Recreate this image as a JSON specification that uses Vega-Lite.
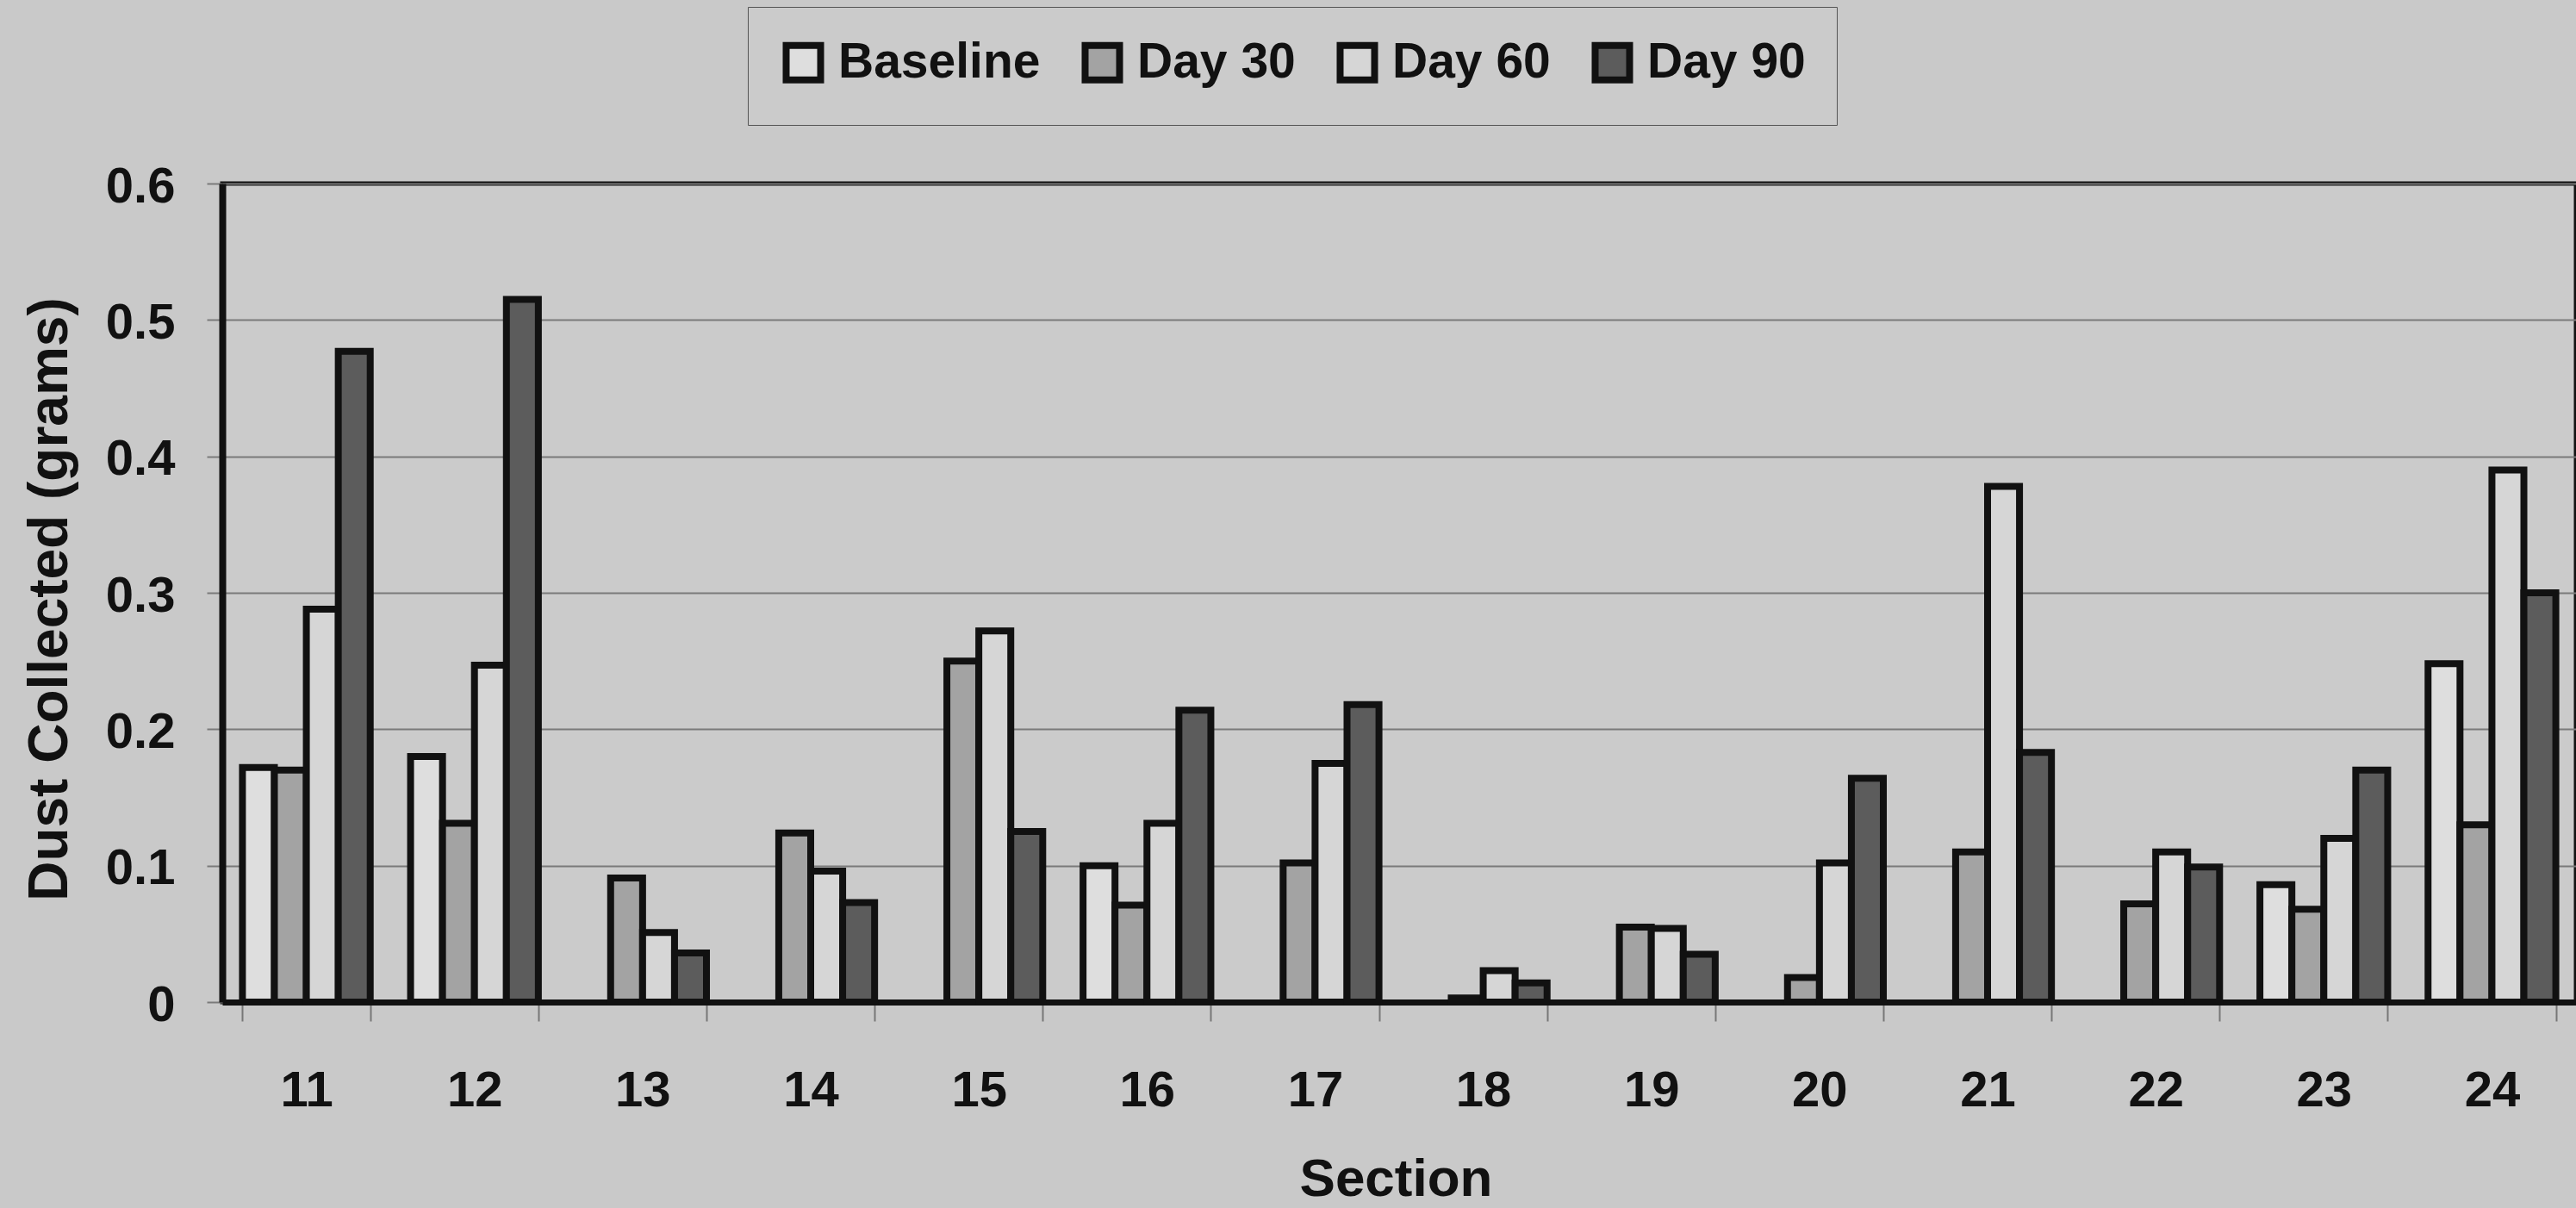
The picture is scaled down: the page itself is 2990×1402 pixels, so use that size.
{
  "$schema": "https://vega.github.io/schema/vega-lite/v6.json",
  "width": 2732,
  "height": 950,
  "autosize": {"type": "none"},
  "padding": {"left": 258, "top": 213, "right": 0, "bottom": 239},
  "background": "#c9c9c9",
  "config": {
    "font": "Liberation Sans",
    "view": {"stroke": "#111111", "strokeWidth": 5, "fill": "#cbcbcb"}
  },
  "data": {
    "values": [
      {"section": 11, "period": "Baseline", "grams": 0.172},
      {"section": 11, "period": "Day 30", "grams": 0.170},
      {"section": 11, "period": "Day 60", "grams": 0.288},
      {"section": 11, "period": "Day 90", "grams": 0.477},
      {"section": 12, "period": "Baseline", "grams": 0.180},
      {"section": 12, "period": "Day 30", "grams": 0.131},
      {"section": 12, "period": "Day 60", "grams": 0.247},
      {"section": 12, "period": "Day 90", "grams": 0.515},
      {"section": 13, "period": "Day 30", "grams": 0.091},
      {"section": 13, "period": "Day 60", "grams": 0.051},
      {"section": 13, "period": "Day 90", "grams": 0.036},
      {"section": 14, "period": "Day 30", "grams": 0.124},
      {"section": 14, "period": "Day 60", "grams": 0.096},
      {"section": 14, "period": "Day 90", "grams": 0.073},
      {"section": 15, "period": "Day 30", "grams": 0.250},
      {"section": 15, "period": "Day 60", "grams": 0.272},
      {"section": 15, "period": "Day 90", "grams": 0.125},
      {"section": 16, "period": "Baseline", "grams": 0.100},
      {"section": 16, "period": "Day 30", "grams": 0.071},
      {"section": 16, "period": "Day 60", "grams": 0.131},
      {"section": 16, "period": "Day 90", "grams": 0.214},
      {"section": 17, "period": "Day 30", "grams": 0.102},
      {"section": 17, "period": "Day 60", "grams": 0.175},
      {"section": 17, "period": "Day 90", "grams": 0.218},
      {"section": 18, "period": "Day 30", "grams": 0.003},
      {"section": 18, "period": "Day 60", "grams": 0.023},
      {"section": 18, "period": "Day 90", "grams": 0.014},
      {"section": 19, "period": "Day 30", "grams": 0.055},
      {"section": 19, "period": "Day 60", "grams": 0.054},
      {"section": 19, "period": "Day 90", "grams": 0.035},
      {"section": 20, "period": "Day 30", "grams": 0.018},
      {"section": 20, "period": "Day 60", "grams": 0.102},
      {"section": 20, "period": "Day 90", "grams": 0.164},
      {"section": 21, "period": "Day 30", "grams": 0.110},
      {"section": 21, "period": "Day 60", "grams": 0.378},
      {"section": 21, "period": "Day 90", "grams": 0.183},
      {"section": 22, "period": "Day 30", "grams": 0.072},
      {"section": 22, "period": "Day 60", "grams": 0.110},
      {"section": 22, "period": "Day 90", "grams": 0.099},
      {"section": 23, "period": "Baseline", "grams": 0.086},
      {"section": 23, "period": "Day 30", "grams": 0.068},
      {"section": 23, "period": "Day 60", "grams": 0.120},
      {"section": 23, "period": "Day 90", "grams": 0.170},
      {"section": 24, "period": "Baseline", "grams": 0.248},
      {"section": 24, "period": "Day 30", "grams": 0.130},
      {"section": 24, "period": "Day 60", "grams": 0.390},
      {"section": 24, "period": "Day 90", "grams": 0.300}
    ]
  },
  "mark": {"type": "bar", "stroke": "#111111", "strokeWidth": 8, "strokeJoin": "miter"},
  "encoding": {
    "x": {
      "field": "section",
      "type": "ordinal",
      "scale": {"paddingInner": 0.24, "paddingOuter": 0.12},
      "axis": {
        "title": "Section",
        "titleFontSize": 62,
        "titleFontWeight": "bold",
        "titleColor": "#111111",
        "titleX": 1362,
        "titleY": 224,
        "titleBaseline": "alphabetic",
        "titleAlign": "center",
        "labelAngle": 0,
        "labelFontSize": 58,
        "labelFontWeight": "bold",
        "labelColor": "#111111",
        "labelBaseline": "alphabetic",
        "labelPadding": 98,
        "tickSize": 22,
        "tickColor": "#777777",
        "tickWidth": 2,
        "tickBand": "extent",
        "domainColor": "#111111",
        "domainWidth": 7,
        "grid": false
      }
    },
    "xOffset": {
      "field": "period",
      "type": "nominal",
      "scale": {"domain": ["Baseline", "Day 30", "Day 60", "Day 90"], "paddingInner": 0, "paddingOuter": 0}
    },
    "y": {
      "field": "grams",
      "type": "quantitative",
      "scale": {"domain": [0, 0.6], "nice": false},
      "axis": {
        "title": "Dust Collected (grams)",
        "titleFontSize": 64,
        "titleFontWeight": "bold",
        "titleColor": "#111111",
        "titleAngle": 270,
        "titleX": -200,
        "titleY": 482,
        "titleBaseline": "middle",
        "titleAlign": "center",
        "values": [0, 0.1, 0.2, 0.3, 0.4, 0.5, 0.6],
        "labelExpr": "datum.value == 0 ? '0' : format(datum.value, '.1f')",
        "labelFontSize": 58,
        "labelFontWeight": "bold",
        "labelColor": "#111111",
        "labelBaseline": "alphabetic",
        "labelOffset": 21,
        "labelPadding": 37,
        "labelFlush": false,
        "labelOverlap": false,
        "tickSize": 18,
        "tickColor": "#7a7a7a",
        "tickWidth": 2,
        "grid": true,
        "gridColor": "#7a7a7a",
        "gridWidth": 2,
        "domainColor": "#111111",
        "domainWidth": 8
      }
    },
    "fill": {
      "field": "period",
      "type": "nominal",
      "scale": {
        "domain": ["Baseline", "Day 30", "Day 60", "Day 90"],
        "range": ["#dedede", "#a3a3a3", "#d6d6d6", "#5c5c5c"]
      },
      "legend": {
        "orient": "none",
        "legendX": 610,
        "legendY": -205,
        "direction": "horizontal",
        "columns": 4,
        "title": null,
        "symbolType": "square",
        "symbolSize": 1600,
        "symbolStrokeColor": "#111111",
        "symbolStrokeWidth": 8,
        "symbolOpacity": 1,
        "labelFontSize": 57,
        "labelFontWeight": "bold",
        "labelColor": "#111111",
        "labelOffset": 12,
        "labelLimit": 0,
        "columnPadding": 35,
        "padding": 36,
        "fillColor": "#cbcbcb",
        "strokeColor": "#555555"
      }
    }
  }
}
